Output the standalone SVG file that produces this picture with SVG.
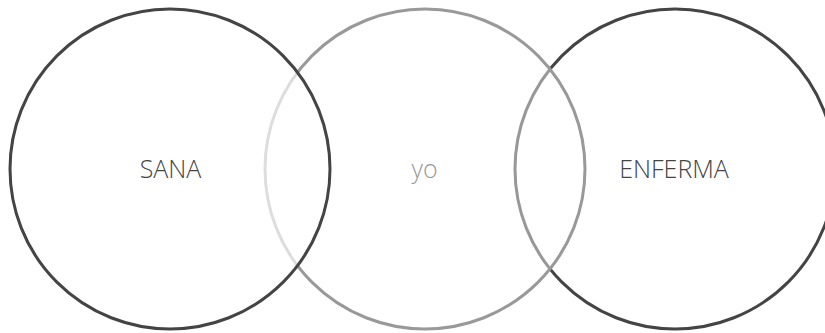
<svg xmlns="http://www.w3.org/2000/svg" width="825" height="333" viewBox="0 0 825 333">
  <style>
    .ring { stroke-width: 3; }
    .label { font-family: "Open Sans", "Liberation Sans", sans-serif; font-weight: 300; font-size: 25px; text-anchor: middle; }
  </style>
  <rect width="825" height="333" fill="#ffffff"/>
  <g id="enferma">
    <circle class="ring" cx="675" cy="169" r="160" fill="none" stroke="#444444"/>
  </g>
  <g id="yo">
    <circle class="ring" cx="425" cy="169" r="160" fill="#ffffff" fill-opacity="0.45" stroke="#999999"/>
  </g>
  <g id="sana">
    <circle class="ring" cx="170" cy="169" r="160" fill="#ffffff" fill-opacity="0.67" stroke="#444444"/>
  </g>
  <g id="labels">
    <text class="label" x="170.5" y="178" fill="#444444">SANA</text>
    <text class="label" x="424.5" y="178" fill="#999999">yo</text>
    <text class="label" x="674" y="178" fill="#444444">ENFERMA</text>
  </g>
</svg>
